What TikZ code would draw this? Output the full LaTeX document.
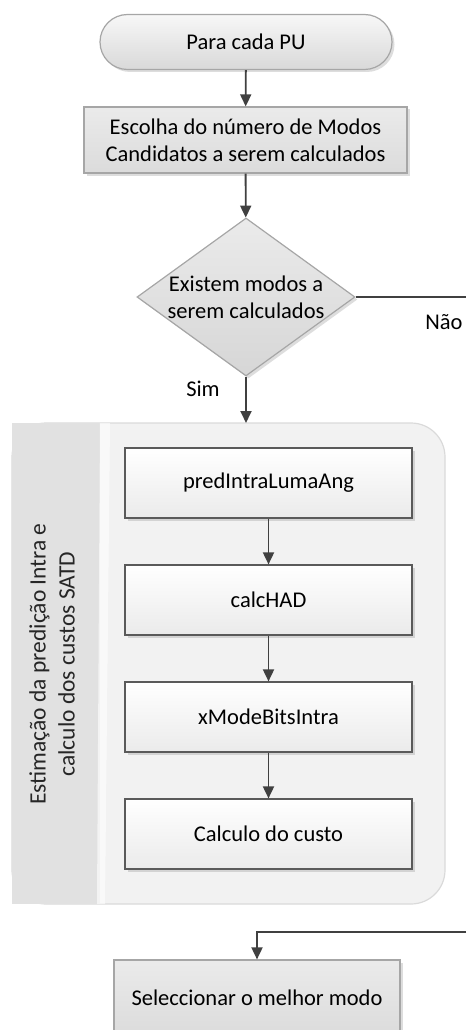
\documentclass[tikz,border=0pt]{standalone}
\usepackage{fontspec}
\setmainfont{Carlito}
\usetikzlibrary{arrows.meta,shapes.geometric,shadows}

\definecolor{wire}{HTML}{404040}
\definecolor{softedge}{HTML}{A6A6A6}
\definecolor{darkedge}{HTML}{5A5A5A}
\definecolor{bandgray}{HTML}{E1E1E1}
\definecolor{panelgray}{HTML}{F2F2F2}
\definecolor{paneledge}{HTML}{DADADA}

\tikzset{
  softshadow/.style={drop shadow={opacity=0.22, shadow xshift=2.5pt, shadow yshift=-2.5pt, fill=black!60}},
  terminal/.style={draw=softedge, line width=1.2pt, rounded corners=27.5pt,
    top color=white!97!black, bottom color=white!85!black,
    minimum width=292pt, minimum height=55pt, inner sep=0pt, softshadow},
  graybox/.style={draw=softedge, line width=1.2pt,
    top color=white!92!black, bottom color=white!86!black,
    minimum height=66pt, inner sep=0pt, align=center, softshadow},
  decision/.style={diamond, aspect=1.38, draw=softedge, line width=1.2pt,
    top color=white!92!black, bottom color=white!84!black,
    minimum width=218pt, minimum height=158pt, inner sep=0pt, align=center, softshadow},
  stepbox/.style={draw=darkedge, line width=1.2pt,
    top color=white, bottom color=white!92!black,
    minimum width=287pt, minimum height=70pt, inner sep=0pt, softshadow},
  flow/.style={draw=wire, line width=1.8pt, -{Triangle[length=12pt,width=11pt]}},
  plain/.style={draw=wire, line width=1.8pt},
  tag/.style={inner sep=0pt}
}

\begin{document}
\begin{tikzpicture}[x=1pt, y=-1pt, font=\fontsize{22.5}{27}\selectfont]
  \useasboundingbox (0,0) rectangle (466,1030);

  % group panel with its side band
  \path[fill=panelgray, draw=paneledge, line width=1.2pt, rounded corners=34pt]
    (12,423) rectangle (445,904);
  \fill[bandgray] (12,423) rectangle (100,904);
  \fill[white, opacity=0.6] (100,423) -- (110,423) -- (105,904) -- (97,904) -- cycle;
  \coordinate (paneltop) at (246,423);
  \node[rotate=90, align=center, text=black!85, font=\fontsize{23.5}{29}\selectfont]
    (bandlabel) at (52,664)
    {Estimação da predição Intra e\\calculo dos custos SATD};

  % main flow
  \node[terminal] (start) at (246,42) {Para cada PU};
  \node[graybox, minimum width=323pt] (choose) at (245.5,140)
    {Escolha do número de Modos\\Candidatos a serem calculados};
  \node[decision] (test) at (246,297) {Existem modos a\\serem calculados};

  \node[stepbox] (pred) at (268.5,483) {predIntraLumaAng};
  \node[stepbox] (had)  at (268.5,600) {calcHAD};
  \node[stepbox] (bits) at (268.5,717) {xModeBitsIntra};
  \node[stepbox] (cost) at (268.5,834) {Calculo do custo};

  \node[graybox, minimum width=286pt, minimum height=76pt] (best) at (257,998)
    {Seleccionar o melhor modo};

  % connectors
  \draw[flow] (start) -- (choose);
  \draw[flow] (choose) -- (test);
  \draw[flow] (test) -- (paneltop);
  \draw[flow] (pred) -- (had);
  \draw[flow] (had) -- (bits);
  \draw[flow] (bits) -- (cost);

  \coordinate (exitout) at (466,297);
  \coordinate (exitin) at (466,932);
  \draw[plain] (test.east) -- (exitout);
  \draw[flow] (exitin) -- (exitin -| best.north) -- (best.north);

  % branch labels
  \node[tag] (yes) at (203,389) {Sim};
  \node[tag] (no) at (444,322) {Não};
\end{tikzpicture}
\end{document}
